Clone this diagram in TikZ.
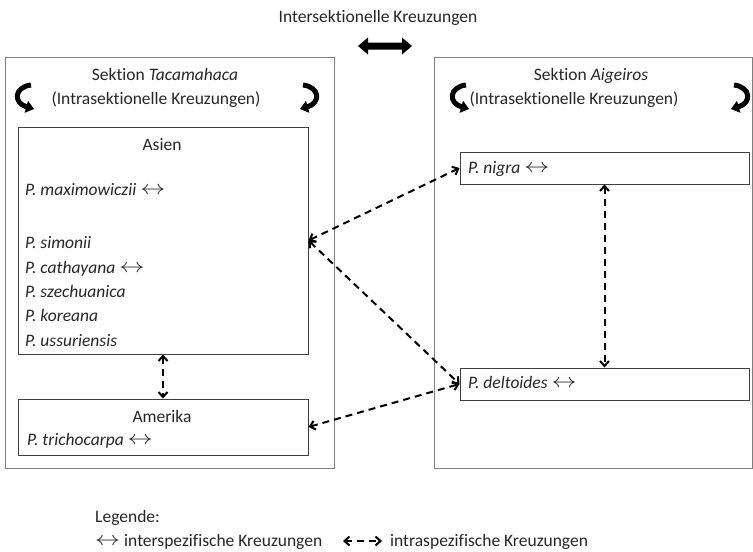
\documentclass[tikz,border=0pt]{standalone}
\usepackage{fontspec}
\usepackage{graphicx}
\setmainfont{Carlito}[RawFeature=-liga]
\usetikzlibrary{arrows.meta}
\definecolor{txt}{HTML}{262626}
\definecolor{secline}{HTML}{7F7F7F}
\definecolor{boxline}{HTML}{3F3F3F}
\newcommand{\bidir}{\raisebox{0.5pt}{\scalebox{1.45}[1.15]{$\leftrightarrow$}}}
\begin{document}
\begin{tikzpicture}[x=1pt,y=-1pt,
 every node/.style={font=\fontsize{17.5}{24.5}\selectfont, text=txt, inner sep=0pt},
 section/.style={draw=secline, line width=1pt, inner sep=0pt},
 region/.style={draw=boxline, line width=1pt, inner sep=0pt},
 lbl/.style={anchor=base west},
 clbl/.style={anchor=base},
 intra/.style={line width=2pt, dash pattern=on 7pt off 5pt, {Straight Barb[length=5pt,width=9pt]}-{Straight Barb[length=5pt,width=9pt]}},
 loopy/.style={line width=5pt, -{Triangle[length=8pt,width=12pt]}}
]
\useasboundingbox (0,0) rectangle (753,552);

% section boxes
\node[section, minimum width=329pt, minimum height=411pt] (tac) at (169.5,262.5) {};
\node[section, minimum width=318pt, minimum height=411pt] (aig) at (593,262.5) {};

% title and intersection arrow
\node[clbl] (title) at (378,22) {Intersektionelle Kreuzungen};
\fill[black] (358,46) -- (368,37.5) -- (368,42.5) -- (402,42.5) -- (402,37.5) -- (412,46)
  -- (402,54.5) -- (402,49.5) -- (368,49.5) -- (368,54.5) -- cycle;

% section titles
\node[clbl] (tactitle) at (165,80) {Sektion \textit{Tacamahaca}};
\node[clbl] (tacsub) at (156,104) {(Intrasektionelle Kreuzungen)};
\node[clbl] (aigtitle) at (591,80) {Sektion \textit{Aigeiros}};
\node[clbl] (aigsub) at (574,104) {(Intrasektionelle Kreuzungen)};

% curved arrows
\draw[loopy] (31,85) .. controls (14,87) and (13,103) .. (34,109);
\draw[loopy] (303,85) .. controls (320,87) and (321,103) .. (300,109);
\draw[loopy] (466,85) .. controls (449,87) and (448,103) .. (469,109);
\draw[loopy] (734,85) .. controls (751,87) and (752,103) .. (731,109);

% inner boxes
\node[region, minimum width=290pt, minimum height=227pt] (asien) at (163,240.5) {};
\node[region, minimum width=290pt, minimum height=56pt] (amerika) at (163,427) {};
\node[region, minimum width=289pt, minimum height=32pt] (nigra) at (604.5,168) {};
\node[region, minimum width=289pt, minimum height=32pt] (deltoides) at (604.5,384) {};

% Asien texts
\node[clbl] (asienT) at (162,150) {Asien};
\node[lbl] (pmax) at (25,195) {\textit{P. maximowiczii} \bidir};
\node[lbl] (psim) at (25,248) {\textit{P. simonii}};
\node[lbl] (pcat) at (25,273) {\textit{P. cathayana} \bidir};
\node[lbl] (psze) at (25,297) {\textit{P. szechuanica}};
\node[lbl] (pkor) at (25,321) {\textit{P. koreana}};
\node[lbl] (puss) at (25,346) {\textit{P. ussuriensis}};

% Amerika texts
\node[clbl] (amerikaT) at (162,422) {Amerika};
\node[lbl] (ptri) at (27,445) {\textit{P. trichocarpa} \bidir};

% Aigeiros texts
\node[lbl] (pnig) at (468,173) {\textit{P. nigra} \bidir};
\node[lbl] (pdel) at (468,388) {\textit{P. deltoides} \bidir};

% connectors
\draw[intra] (asien.east) -- (nigra.west);
\draw[intra] (asien.east) -- (deltoides.west);
\draw[intra] (amerika.east) -- (deltoides.west);
\draw[intra] (asien.south) -- (amerika.north);
\draw[intra] (nigra.south) -- (deltoides.north);

% legend
\node[lbl] (leg) at (95,522) {Legende:};
\node[lbl] (leg1) at (95,546) {\bidir\ interspezifische Kreuzungen};
\coordinate (la) at (343,541);
\coordinate (lb) at (382,541);
\draw[intra] (la) -- (lb);
\node[lbl] (leg2) at (390,546) {intraspezifische Kreuzungen};
\end{tikzpicture}
\end{document}
